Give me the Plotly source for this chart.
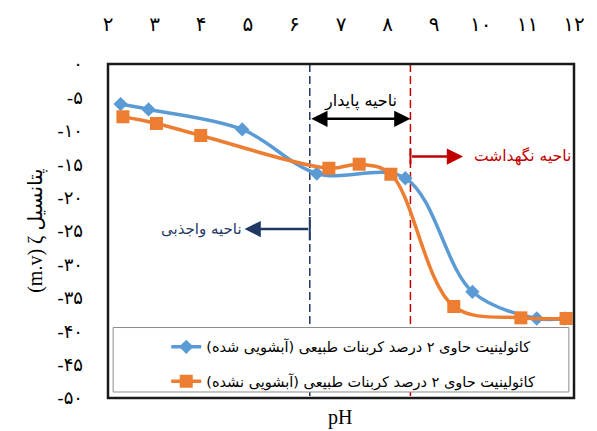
import plotly.graph_objects as go

# ---- data ----
ph_washed = [2.27, 2.87, 4.88, 6.48, 8.38, 9.82, 11.2, 11.8]
zeta_washed = [-6.0, -6.8, -9.8, -16.4, -17.1, -34.1, -38.1, -38.1]

ph_unwashed = [2.32, 3.04, 3.99, 6.74, 7.39, 8.07, 9.42, 10.86, 11.83]
zeta_unwashed = [-7.9, -8.9, -10.7, -15.6, -15.0, -16.5, -36.3, -38.0, -38.1]

x_tickvals = [2, 3, 4, 5, 6, 7, 8, 9, 10, 11, 12]
x_ticktext = ["۲", "۳", "۴", "۵", "۶", "۷", "۸", "۹", "۱۰", "۱۱", "۱۲"]
y_tickvals = [0, -5, -10, -15, -20, -25, -30, -35, -40, -45, -50]
y_ticktext = ["۰", "-۵", "-۱۰", "-۱۵", "-۲۰", "-۲۵", "-۳۰", "-۳۵", "-۴۰", "-۴۵", "-۵۰"]

name_washed = "\u200fکائولینیت حاوی ۲ درصد کربنات طبیعی (آبشویی شده)\u200f"
name_unwashed = "\u200fکائولینیت حاوی ۲ درصد کربنات طبیعی (آبشویی نشده)\u200f"

ph_desorb = 6.33      # boundary: desorption / stable
ph_retain = 8.49      # boundary: stable / retention

FA = "DejaVu Sans"
BLUE = "#5B9BD5"
ORANGE = "#ED7D31"
NAVY = "#1F3864"
RED = "#C00000"

fig = go.Figure()
fig.add_trace(go.Scatter(
    x=ph_washed, y=zeta_washed, name=name_washed, mode="lines+markers",
    line=dict(color=BLUE, width=3.5, shape="spline", smoothing=1),
    marker=dict(symbol="diamond", size=11, color=BLUE),
    legend="legend"))
fig.add_trace(go.Scatter(
    x=ph_unwashed, y=zeta_unwashed, name=name_unwashed, mode="lines+markers",
    line=dict(color=ORANGE, width=3.5, shape="spline", smoothing=1),
    marker=dict(symbol="square", size=13, color=ORANGE),
    legend="legend2"))

shapes = [
    dict(type="line", xref="x", yref="y", x0=ph_desorb, x1=ph_desorb, y0=0, y1=-50,
         line=dict(color=NAVY, width=1.5, dash="8px,4px"), layer="below"),
    dict(type="line", xref="x", yref="y", x0=ph_retain, x1=ph_retain, y0=0, y1=-50,
         line=dict(color=RED, width=1.5, dash="8px,4px"), layer="below"),
    # tail ticks of region arrows
    dict(type="line", xref="x", yref="y", x0=ph_retain, x1=ph_retain, y0=-12.7, y1=-15.0,
         line=dict(color=RED, width=2)),
    dict(type="line", xref="x", yref="y", x0=ph_desorb, x1=ph_desorb, y0=-22.9, y1=-26.4,
         line=dict(color=NAVY, width=2)),
    # legend box
    dict(type="rect", xref="paper", yref="paper", x0=0.011, x1=0.989, y0=0.018, y1=0.211,
         fillcolor="white", line=dict(color="#8c8c8c", width=1), layer="above"),
    # frame
    dict(type="rect", xref="paper", yref="paper", x0=0, x1=1, y0=0, y1=1,
         line=dict(color="#1a1a1a", width=2.5), layer="above"),
]

annotations = [
    # stable region double arrow
    dict(x=ph_retain, y=-8.2, ax=ph_desorb, ay=-8.2, xref="x", yref="y", axref="x", ayref="y",
         text="", showarrow=True, arrowhead=2, arrowside="end+start", arrowsize=1.3,
         arrowwidth=2.5, arrowcolor="black", standoff=0, startstandoff=0),
    dict(x=7.42, y=-5.5, xref="x", yref="y", text="ناحیه پایدار", showarrow=False,
         font=dict(family=FA, size=16, color="black")),
    # retention region arrow
    dict(x=9.62, y=-13.85, ax=ph_retain, ay=-13.85, xref="x", yref="y", axref="x", ayref="y",
         text="", showarrow=True, arrowhead=2, arrowsize=1.3, arrowwidth=2.5,
         arrowcolor=RED, standoff=0),
    dict(x=10.9, y=-13.85, xref="x", yref="y", text="ناحیه نگهداشت", showarrow=False,
         font=dict(family=FA, size=15.5, color=RED)),
    # desorption region arrow
    dict(x=4.93, y=-24.7, ax=ph_desorb, ay=-24.7, xref="x", yref="y", axref="x", ayref="y",
         text="", showarrow=True, arrowhead=2, arrowsize=1.3, arrowwidth=2.5,
         arrowcolor=NAVY, standoff=0),
    dict(x=4.0, y=-24.7, xref="x", yref="y", text="ناحیه واجذبی", showarrow=False,
         font=dict(family=FA, size=15, color=NAVY)),
    # axis titles
    dict(x=-0.185, y=0.5, xref="paper", yref="paper", text="(m.v) ζ پتانسیل",
         textangle=-90, showarrow=False,
         font=dict(family="Liberation Serif, DejaVu Sans", size=20, color="black")),
    dict(x=0.497, y=-0.1, xref="paper", yref="paper", text="pH", showarrow=False,
         font=dict(family="Liberation Serif", size=20, color="black")),
]

fig.update_layout(
    width=597, height=431,
    margin=dict(l=108, r=12, t=62, b=33),
    paper_bgcolor="white", plot_bgcolor="white",
    showlegend=True,
    shapes=shapes, annotations=annotations,
    xaxis=dict(range=[2, 12], side="top", tickvals=x_tickvals, ticktext=x_ticktext,
               showgrid=False, zeroline=False, showline=False, ticks="",
               ticklabelstandoff=28, ticklabeloverflow="allow",
               tickfont=dict(family=FA, size=20, color="black")),
    yaxis=dict(range=[-50, 0], tickvals=y_tickvals, ticktext=y_ticktext,
               showgrid=False, zeroline=False, showline=False, ticks="",
               ticklabelstandoff=24,
               tickfont=dict(family=FA, size=18, color="black")),
    legend=dict(x=0.125, y=0.153, xanchor="left", yanchor="middle",
                bgcolor="rgba(0,0,0,0)", borderwidth=0,
                font=dict(family=FA, size=14.5, color="black")),
    legend2=dict(x=0.125, y=0.05, xanchor="left", yanchor="middle",
                 bgcolor="rgba(0,0,0,0)", borderwidth=0,
                 font=dict(family=FA, size=14.5, color="black")),
)

fig.write_html("out.html")
